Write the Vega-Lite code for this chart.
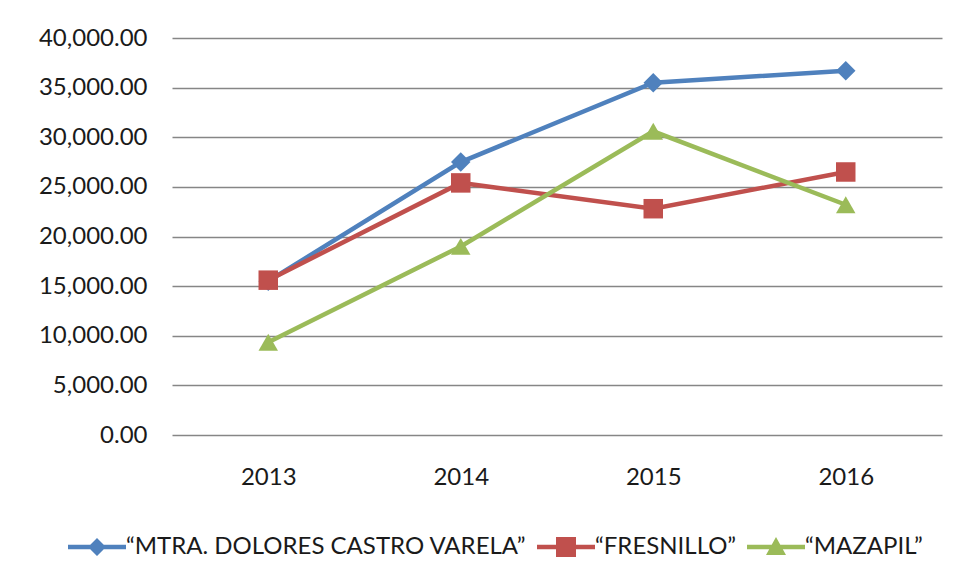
{
  "$schema": "https://vega.github.io/schema/vega-lite/v6.json",
  "width": 770,
  "height": 397,
  "autosize": {"type": "none"},
  "padding": {"left": 172, "top": 38, "right": 16, "bottom": 146},
  "background": "white",
  "config": {
    "view": {"stroke": null},
    "font": "Lato",
    "axis": {"labelFont": "Lato", "labelFontSize": 24, "labelColor": "#1a1a1a", "gridColor": "#868686", "gridWidth": 1.5, "gridOpacity": 1}
  },
  "data": {
    "values": [
      {"year": "2013", "series": "“MTRA. DOLORES CASTRO VARELA”", "value": 15500},
      {"year": "2014", "series": "“MTRA. DOLORES CASTRO VARELA”", "value": 27500},
      {"year": "2015", "series": "“MTRA. DOLORES CASTRO VARELA”", "value": 35500},
      {"year": "2016", "series": "“MTRA. DOLORES CASTRO VARELA”", "value": 36700},
      {"year": "2013", "series": "“FRESNILLO”", "value": 15600},
      {"year": "2014", "series": "“FRESNILLO”", "value": 25400},
      {"year": "2015", "series": "“FRESNILLO”", "value": 22800},
      {"year": "2016", "series": "“FRESNILLO”", "value": 26500},
      {"year": "2013", "series": "“MAZAPIL”", "value": 9350},
      {"year": "2014", "series": "“MAZAPIL”", "value": 19000},
      {"year": "2015", "series": "“MAZAPIL”", "value": 30600},
      {"year": "2016", "series": "“MAZAPIL”", "value": 23200}
    ]
  },
  "encoding": {
    "x": {"field": "year", "type": "ordinal", "scale": {"type": "point", "padding": 0.5},
      "axis": {"title": null, "labelAngle": 0, "ticks": false, "domain": false, "grid": false, "labelPadding": 30}},
    "y": {"field": "value", "type": "quantitative", "scale": {"domain": [0, 40000], "nice": false},
      "axis": {"title": null, "values": [0, 5000, 10000, 15000, 20000, 25000, 30000, 35000, 40000], "format": ",.2f", "ticks": false, "domain": false, "labelPadding": 25}}
  },
  "layer": [
    {
      "mark": {"type": "line", "strokeWidth": 4.5},
      "encoding": {
        "color": {"field": "series", "type": "nominal", "legend": null,
          "scale": {"domain": ["“MTRA. DOLORES CASTRO VARELA”", "“FRESNILLO”", "“MAZAPIL”"], "range": ["#4F81BD", "#C0504D", "#9BBB59"]}}
      }
    },
    {
      "mark": {"type": "point", "filled": true, "opacity": 1},
      "encoding": {
        "color": {"field": "series", "type": "nominal", "legend": null,
          "scale": {"domain": ["“MTRA. DOLORES CASTRO VARELA”", "“FRESNILLO”", "“MAZAPIL”"], "range": ["#4F81BD", "#C0504D", "#9BBB59"]}},
        "shape": {"field": "series", "type": "nominal", "legend": null,
          "scale": {"domain": ["“MTRA. DOLORES CASTRO VARELA”", "“FRESNILLO”", "“MAZAPIL”"], "range": ["diamond", "square", "triangle-up"]}},
        "size": {"value": 380}
      }
    },
    {
      "transform": [{"filter": "false"}],
      "mark": {"type": "point", "filled": true, "opacity": 1},
      "encoding": {
        "color": {"field": "series", "type": "nominal",
          "scale": {"domain": ["“MTRA. DOLORES CASTRO VARELA”", "“FRESNILLO”", "“MAZAPIL”"], "range": ["#4F81BD", "#C0504D", "#9BBB59"]},
          "legend": {"title": null, "orient": "none", "direction": "horizontal", "legendX": -87, "legendY": 497,
            "labelFont": "Lato", "labelFontSize": 24, "labelColor": "#1a1a1a", "labelLimit": 600,
            "symbolSize": 400, "symbolStrokeWidth": 0, "symbolOpacity": 1, "labelOffset": 17, "columnPadding": 10}},
        "shape": {"field": "series", "type": "nominal",
          "scale": {"domain": ["“MTRA. DOLORES CASTRO VARELA”", "“FRESNILLO”", "“MAZAPIL”"],
            "range": [
              "M-2.9,-0.225L2.9,-0.225L2.9,0.225L-2.9,0.225Z M0,-0.9L0.9,0L0,0.9L-0.9,0Z",
              "M-2.9,-0.225L2.9,-0.225L2.9,0.225L-2.9,0.225Z M-1,-1L1,-1L1,1L-1,1Z",
              "M-2.9,-0.225L2.9,-0.225L2.9,0.225L-2.9,0.225Z M0,-1L1,0.8L-1,0.8Z"
            ]},
          "legend": {"title": null}}
      }
    }
  ],
  "resolve": {"scale": {"color": "independent", "shape": "independent"}}
}
